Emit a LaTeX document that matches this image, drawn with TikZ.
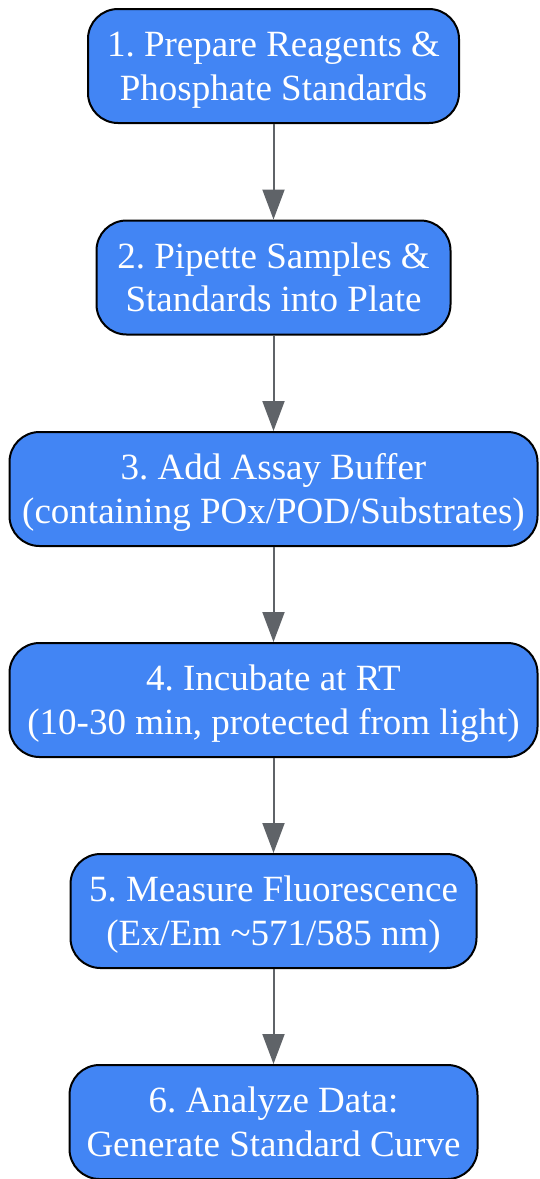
\documentclass[tikz,border=0pt]{standalone}
\usepackage{fontspec}
\setmainfont{Liberation Serif}
\usetikzlibrary{arrows.meta}
\definecolor{stepblue}{HTML}{4285F4}
\definecolor{arrowgray}{HTML}{5F6368}
\tikzstyle{stepbox}=[draw=black, line width=2pt, fill=stepblue, text=white, rounded corners=30pt, minimum height=114pt, align=center, inner sep=0pt, text height=78pt, text depth=10pt, font=\fontsize{37}{43.5}\selectfont\frenchspacing]
\tikzstyle{arrow}=[draw=arrowgray, line width=2pt, -{Triangle[length=30pt, width=22pt]}]

\begin{document}
\begin{tikzpicture}[x=1pt, y=-1pt]
		   \useasboundingbox (0, 0) rectangle (539, 1179);
		   \node[stepbox, minimum width=371pt] (s1) at (273.5, 66) {1. Prepare Reagents \&\\Phosphate Standards};
		   \node[stepbox, minimum width=354pt] (s2) at (273.5, 277.5) {2. Pipette Samples \&\\Standards into Plate};
		   \node[stepbox, minimum width=528pt] (s3) at (273.5, 489) {3. Add Assay Buffer\\(containing POx/POD/Substrates)};
		   \node[stepbox, minimum width=528pt] (s4) at (273.5, 700) {4. Incubate at RT\\(10-30 min, protected from light)};
		   \node[stepbox, minimum width=406pt] (s5) at (273.5, 911) {5. Measure Fluorescence\\(Ex/Em \textasciitilde571/585 nm)};
		   \node[stepbox, minimum width=408pt] (s6) at (273.5, 1122) {6. Analyze Data:\\Generate Standard Curve};
		   \draw[arrow] (s1) -- (s2);
		   \draw[arrow] (s2) -- (s3);
		   \draw[arrow] (s3) -- (s4);
		   \draw[arrow] (s4) -- (s5);
		   \draw[arrow] (s5) -- (s6);
	   \end{tikzpicture}
\end{document}
